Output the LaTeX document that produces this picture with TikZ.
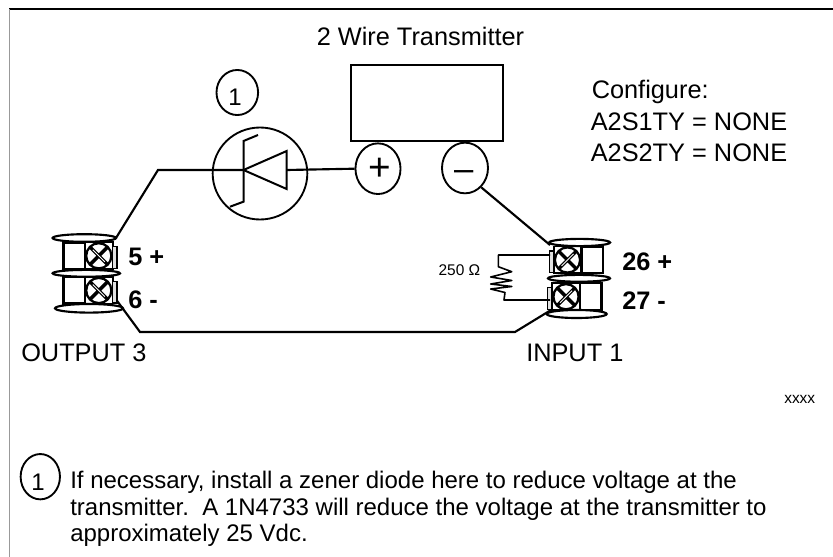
\documentclass[tikz,border=0pt]{standalone}
\usepackage{fontspec}
\setmainfont{Liberation Sans}
\usetikzlibrary{shapes.geometric}
\tikzset{
 x=0.75pt,y=-0.75pt,
 wire/.style={draw=black,line width=1.6pt},
 thinwire/.style={draw=black,line width=1.2pt},
 lbl/.style={inner sep=0pt,font=\fontsize{19}{22}\selectfont,anchor=base west},
 notelbl/.style={inner sep=0pt,font=\fontsize{18}{22}\selectfont,anchor=base west},
 boldlbl/.style={inner sep=0pt,font=\fontsize{19}{22}\selectfont\bfseries,anchor=base west},
 smalllbl/.style={inner sep=0pt,font=\fontsize{11.6}{14}\selectfont,anchor=base west},
 circ/.style={ellipse,draw=black,line width=1.4pt,inner sep=0pt,fill=white},
 flange/.style={draw=black,line width=1.6pt,fill=white},
}
\newcommand{\terminal}[3]{%
 \begin{scope}[shift={(#1,#2)},xscale=#3]
  \draw[line width=1.8pt,fill=white] (-35.5,-13.5) rectangle (-13.8,13);
  \draw[line width=1.4pt,fill=white] (-13.8,-13.5) rectangle (13.9,13);
  \draw[line width=1pt,fill=black!12] (13.9,-9) rectangle (18.3,12.5);
  \draw[line width=1.7pt,fill=white] (0,0) circle (12.6);
  \draw[line width=2.6pt] (-8.5,-8.5) -- (8.5,8.5) (-8.5,8.5) -- (8.5,-8.5);
  \draw[line width=0.7pt,white] (-6,-6) -- (6,6);
 \end{scope}}
\begin{document}
\begin{tikzpicture}
\useasboundingbox (0,0) rectangle (833,557);
\draw[draw=black,line width=1.4pt] (9,9.3) -- (833,9.3);
\draw[draw=black!40,line width=1pt] (9.3,9.3) -- (9.3,557);
% named points
\coordinate (w1) at (158,170);
\coordinate (t5) at (116,238);
\coordinate (t6) at (115,298);
\coordinate (w2) at (140,332);
\coordinate (w3) at (515,332);
\coordinate (t27) at (551,310);
\coordinate (t26) at (550,245);
% bottom wires under the terminals
\draw[wire] (t6) -- (w2) -- (w3) -- (t27);
% terminals
\terminal{98.8}{255.8}{1}
\terminal{98.8}{290.5}{1}
\terminal{567.5}{260}{-1}
\terminal{566}{296.7}{-1}
\path[flange] (84.3,238) ellipse (31.7 and 3.8);
\path[flange] (86.3,273.3) ellipse (33.7 and 3.4);
\path[flange] (89,308.3) ellipse (34 and 4.3);
\path[flange] (579.6,242.5) ellipse (30.5 and 3.6);
\path[flange] (579,278.3) ellipse (31 and 3.4);
\path[flange] (576.7,314) ellipse (30 and 4);
% top devices
\node[circ,minimum width=31.2pt,minimum height=33.8pt] (note) at (237.3,92.5) {};
\node[inner sep=0pt,anchor=base,font=\fontsize{18}{22}\selectfont] (notenum) at (235,105) {1};
\node[draw=black,line width=1.5pt,fill=white,inner sep=0pt,minimum width=113.5pt,minimum height=57pt] (tx) at (427,103.3) {};
\node[circ,minimum width=33.8pt,minimum height=38pt] (plus) at (378,168.7) {};
\node[circ,minimum width=34.5pt,minimum height=38pt] (minus) at (465,168) {};
\node[circ,minimum width=71pt,minimum height=69pt] (zener) at (260,173.5) {};
\node[inner sep=0pt,font=\fontsize{29}{29}\selectfont] (plussign) at (380,169) {+};
\node[inner sep=0pt,font=\fontsize{26}{26}\selectfont] (minussign) at (463.7,176) {–};
% wires
\draw[wire] (t5) -- (w1) -- (243.5,170);
\draw[wire] (minus.-50) -- (t26);
\draw[wire] (286.7,170) -- (plus.west);
% zener symbol
\draw[line width=1.5pt,line join=miter] (243.5,170) -- (286.7,151) -- (286.7,189) -- cycle;
\draw[line width=1.5pt] (258,135) -- (243.5,141) -- (243.5,201.7) -- (230,206.7);
% resistor
\draw[thinwire,line join=round] (550,255) -- (498.3,255) -- (498.3,266.7) -- (511.7,271.7) -- (490.7,277) -- (511.7,280.5) -- (490.7,284) -- (511.7,286.5) -- (490.7,289) -- (505,292.5) -- (504,300) -- (550,300);
\node[smalllbl] (ohm) at (438.3,275) {250 Ω};
% text
\node[lbl] (title) at (316.5,45) {2 Wire Transmitter};
\node[lbl] (cfg) at (591.5,98.3) {Configure:};
\node[lbl] (cfga) at (590.5,130) {A2S1TY = NONE};
\node[lbl] (cfgb) at (590.5,161.7) {A2S2TY = NONE};
\node[boldlbl] (five) at (128,265) {5 +};
\node[boldlbl] (six) at (128,308) {6 -};
\node[boldlbl] (tsix) at (622,270.5) {26 +};
\node[boldlbl] (tseven) at (622,309) {27 -};
\node[lbl] (out) at (21,361.7) {OUTPUT 3};
\node[lbl] (in) at (526,361.7) {INPUT 1};
\node[smalllbl] (xx) at (784,403) {xxxx};
\node[circ,minimum width=29.5pt,minimum height=34pt] (n2) at (40.3,476.7) {};
\node[inner sep=0pt,anchor=base,font=\fontsize{18}{22}\selectfont] (n2num) at (38,490) {1};
\node[notelbl] (l1) at (70,488) {If necessary, install a zener diode here to reduce voltage at the};
\node[notelbl] (l2) at (70,515) {transmitter.\ \ A 1N4733 will reduce the voltage at the transmitter to};
\node[notelbl] (l3) at (70,541.7) {approximately 25 Vdc.};
\end{tikzpicture}
\end{document}
